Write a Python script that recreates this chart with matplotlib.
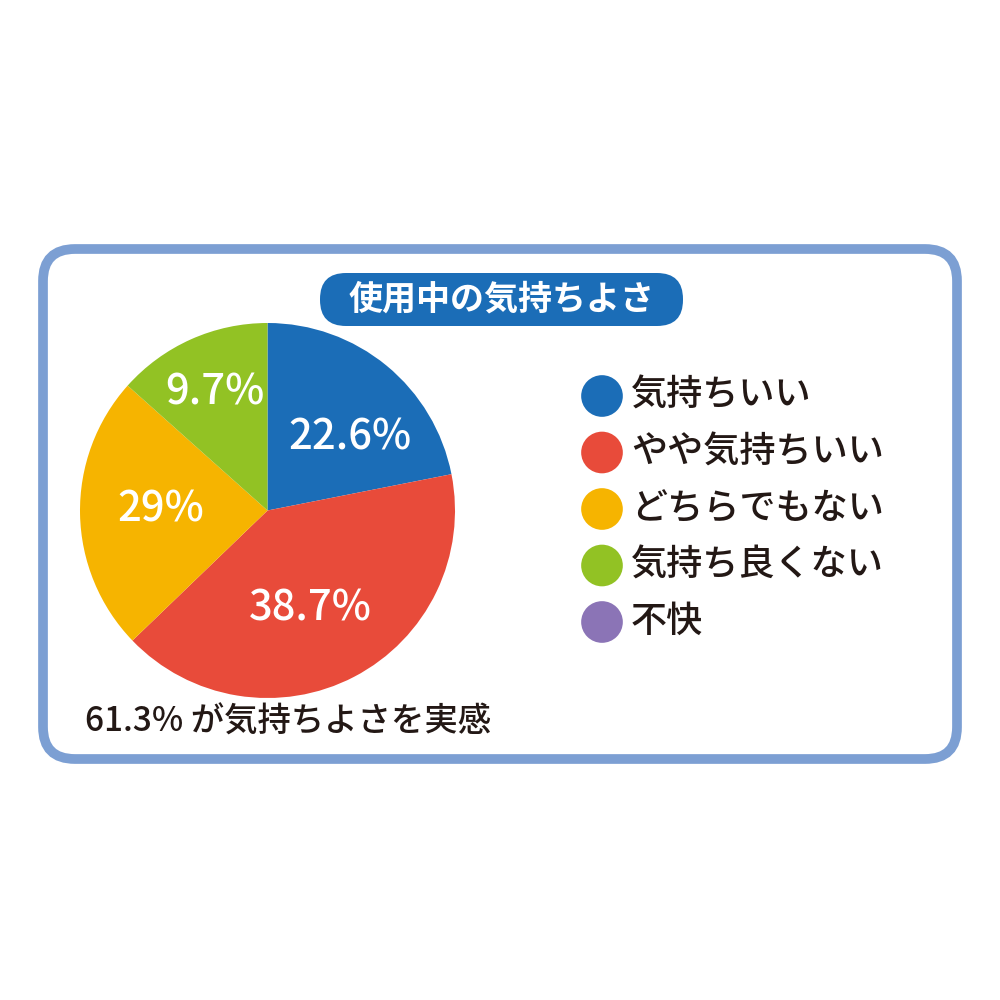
import numpy as np
import matplotlib.pyplot as plt
from matplotlib.patches import FancyBboxPatch

plt.rcParams["font.family"] = ["Noto Sans CJK JP", "DejaVu Sans"]

# data
categories = ["気持ちいい", "やや気持ちいい", "どちらでもない", "気持ち良くない", "不快"]
pct_labels = ["22.6%", "38.7%", "29%", "9.7%", ""]
# wedge sizes as drawn in the original picture (not quite the printed labels)
wedge_sizes = [21.9, 40.9, 23.8, 13.4, 0.0]
colors = ["#1B6DB7", "#E84B3A", "#F6B400", "#92C224", "#8B74B6"]
title = "使用中の気持ちよさ"
note = "61.3% が気持ちよさを実感"

text_dark = "#231815"

fig = plt.figure(figsize=(10, 10), dpi=100)
fig.patch.set_facecolor("white")

# background axes in pixel units (y grows downward)
bg = fig.add_axes([0, 0, 1, 1])
bg.set_xlim(0, 1000)
bg.set_ylim(1000, 0)
bg.axis("off")

frame = FancyBboxPatch((43, 249), 914, 510,
                       boxstyle="round,pad=0,rounding_size=32",
                       facecolor="white", edgecolor="#7C9FD3", linewidth=7)
bg.add_patch(frame)

pill = FancyBboxPatch((320, 273), 363, 53,
                      boxstyle="round,pad=0,rounding_size=26",
                      facecolor="#1B6DB7", edgecolor="none")
bg.add_patch(pill)
bg.text(502, 299, title, color="white", fontsize=24.5, fontweight="bold",
        ha="center", va="center")

# legend
for i, (cat, col) in enumerate(zip(categories, colors)):
    y = 396 + i * 56.5
    bg.scatter([602], [y], s=900, color=col, edgecolors="none")
    bg.text(631, y, cat, color=text_dark, fontsize=26, fontweight="medium",
            ha="left", va="center")

bg.text(85, 722, note, color=text_dark, fontsize=24, fontweight="medium",
        ha="left", va="center")

# pie
ax = fig.add_axes([0.080, 0.302, 0.375, 0.375])
wedges, texts = ax.pie(wedge_sizes, colors=colors, startangle=90, counterclock=False,
                       radius=1.0, wedgeprops=dict(linewidth=0))
dists = [0.59, 0.57, 0.57, 0.69, 0.6]
shifts = [-9, -4, -2, 0, 0]
for w, lab, d, s in zip(wedges, pct_labels, dists, shifts):
    if not lab:
        continue
    ang = np.deg2rad((w.theta1 + w.theta2) / 2 + s)
    ax.text(d * np.cos(ang), d * np.sin(ang), lab, color="white", fontsize=30,
            fontweight="medium", ha="center", va="center")
ax.set_xlim(-1, 1)
ax.set_ylim(-1, 1)
ax.set_aspect("equal")
ax.axis("off")

fig.savefig("out.png", dpi=100, facecolor="white")
